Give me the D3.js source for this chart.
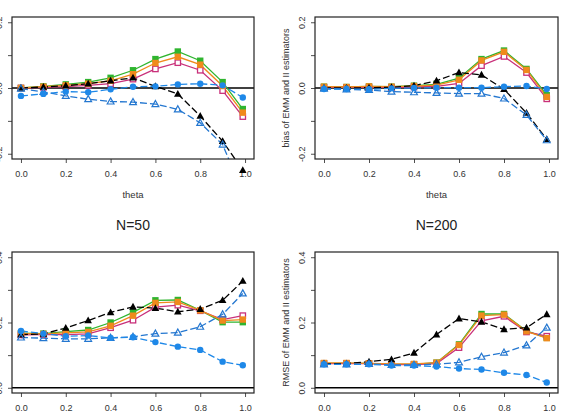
<!DOCTYPE html>
<html><head><meta charset="utf-8">
<script src="https://cdn.jsdelivr.net/npm/d3@7"></script>
<style>body{margin:0;background:#fff}svg{display:block}</style>
</head><body><svg id="c" width="567" height="420"></svg>
<script>
// ---- data ----
const theta = [0, 0.1, 0.2, 0.3, 0.4, 0.5, 0.6, 0.7, 0.8, 0.9, 0.99];
const xTicks = [0, 0.2, 0.4, 0.6, 0.8, 1.0];
const xTickLabels = ["0.0", "0.2", "0.4", "0.6", "0.8", "1.0"];
const biasTicks = [-0.2, -0.1, 0, 0.1, 0.2];
const biasTickLabels = ["-0.2", "", "0.0", "", "0.2"];
const rmseTicks = [0, 0.1, 0.2, 0.3, 0.4];
const rmseTickLabels = ["0.0", "", "0.2", "", "0.4"];
const panelTitles = ["", "", "N=50", "N=200"];
const xTitle = "theta";
const biasTitle = "bias of EMM and II estimators";
const rmseTitle = "RMSE of EMM and II estimators";

// bias, N=50
const bias50Black   = [0, 0.003, 0.007, 0.013, 0.022, 0.031, 0.005, -0.018, -0.085, -0.162, -0.25];
const bias50Green   = [0, 0.005, 0.011, 0.018, 0.031, 0.054, 0.088, 0.111, 0.083, 0.018, -0.064];
const bias50Orange  = [0, 0.004, 0.008, 0.013, 0.022, 0.042, 0.076, 0.095, 0.071, 0.006, -0.075];
const bias50Magenta = [0, 0.002, 0.004, 0.008, 0.013, 0.027, 0.058, 0.077, 0.054, -0.008, -0.087];
const bias50Circle  = [-0.024, -0.018, -0.011, -0.013, -0.004, 0.004, 0.005, 0.011, 0.013, 0.008, -0.029];
const bias50Tri     = [-0.002, -0.012, -0.024, -0.034, -0.041, -0.043, -0.049, -0.065, -0.106, -0.172, -0.32];
// bias, N=200
const bias200Black   = [0, 0, 0.001, 0.002, 0.007, 0.022, 0.047, 0.040, -0.004, -0.076, -0.156];
const bias200Green   = [0.004, 0.003, 0.005, 0.004, 0.007, 0.011, 0.030, 0.088, 0.114, 0.058, -0.022];
const bias200Orange  = [0.004, 0.003, 0.005, 0.004, 0.006, 0.009, 0.025, 0.084, 0.110, 0.055, -0.027];
const bias200Magenta = [0.002, 0.002, 0.002, 0.002, 0.003, 0.005, 0.014, 0.068, 0.096, 0.047, -0.033];
const bias200Circle  = [-0.003, -0.003, -0.004, -0.001, 0.000, 0.001, 0.001, 0.001, 0.004, 0.006, -0.003];
const bias200Tri     = [-0.002, -0.004, -0.006, -0.011, -0.013, -0.015, -0.017, -0.017, -0.032, -0.082, -0.159];
// RMSE, N=50
const rmse50Black   = [0.163, 0.165, 0.183, 0.206, 0.231, 0.248, 0.244, 0.233, 0.241, 0.268, 0.327];
const rmse50Green   = [0.167, 0.166, 0.172, 0.177, 0.200, 0.231, 0.268, 0.269, 0.237, 0.201, 0.201];
const rmse50Orange  = [0.166, 0.165, 0.168, 0.171, 0.190, 0.221, 0.260, 0.263, 0.237, 0.206, 0.209];
const rmse50Magenta = [0.162, 0.163, 0.163, 0.165, 0.184, 0.207, 0.247, 0.253, 0.236, 0.209, 0.221];
const rmse50Circle  = [0.174, 0.166, 0.158, 0.160, 0.153, 0.155, 0.140, 0.126, 0.116, 0.080, 0.069];
const rmse50Tri     = [0.154, 0.152, 0.150, 0.150, 0.153, 0.156, 0.166, 0.169, 0.187, 0.225, 0.289];
// RMSE, N=200
const rmse200Black   = [0.074, 0.074, 0.080, 0.087, 0.107, 0.163, 0.212, 0.202, 0.179, 0.184, 0.225];
const rmse200Green   = [0.075, 0.075, 0.075, 0.072, 0.072, 0.077, 0.133, 0.226, 0.226, 0.174, 0.153];
const rmse200Orange  = [0.076, 0.076, 0.075, 0.073, 0.073, 0.077, 0.131, 0.221, 0.224, 0.173, 0.152];
const rmse200Magenta = [0.074, 0.074, 0.074, 0.071, 0.071, 0.074, 0.123, 0.205, 0.219, 0.171, 0.158];
const rmse200Circle  = [0.072, 0.072, 0.072, 0.068, 0.068, 0.065, 0.059, 0.056, 0.046, 0.039, 0.016];
const rmse200Tri     = [0.072, 0.072, 0.073, 0.070, 0.070, 0.072, 0.078, 0.095, 0.108, 0.130, 0.184];

// ---- styles ----
const styles = {
  green:   {color: "#2fb52f", dash: null,  shape: "fsquare"},
  magenta: {color: "#c9307a", dash: null,  shape: "osquare"},
  orange:  {color: "#f08a1c", dash: null,  shape: "fsquare"},
  black:   {color: "#000000", dash: "7,3", shape: "ftri"},
  tri:     {color: "#2477d0", dash: "7,3", shape: "otri"},
  circle:  {color: "#1e88e8", dash: "7,3", shape: "circle"}
};
const order = ["green", "magenta", "orange", "black", "tri", "circle"];

const panels = [
  {box: [12, 17, 254, 159], dom: [-0.2, 0.2], ticks: biasTicks, labels: biasTickLabels, ytitle: biasTitle, xtitle: true,
   series: {green: bias50Green, magenta: bias50Magenta, orange: bias50Orange, black: bias50Black, tri: bias50Tri, circle: bias50Circle}},
  {box: [315, 17, 558, 159], dom: [-0.2, 0.2], ticks: biasTicks, labels: biasTickLabels, ytitle: biasTitle, xtitle: true,
   series: {green: bias200Green, magenta: bias200Magenta, orange: bias200Orange, black: bias200Black, tri: bias200Tri, circle: bias200Circle}},
  {box: [12, 252, 254, 393], dom: [0, 0.4], ticks: rmseTicks, labels: rmseTickLabels, ytitle: rmseTitle, xtitle: false,
   series: {green: rmse50Green, magenta: rmse50Magenta, orange: rmse50Orange, black: rmse50Black, tri: rmse50Tri, circle: rmse50Circle}},
  {box: [315, 252, 558, 393], dom: [0, 0.4], ticks: rmseTicks, labels: rmseTickLabels, ytitle: rmseTitle, xtitle: false,
   series: {green: rmse200Green, magenta: rmse200Magenta, orange: rmse200Orange, black: rmse200Black, tri: rmse200Tri, circle: rmse200Circle}}
];

const svg = d3.select("#c");
const font = "'Liberation Sans', Arial, Helvetica, sans-serif";
const defs = svg.append("defs");

panels.forEach((p, i) => {
  const [x0, y0, x1, y1] = p.box;
  const xs = d3.scaleLinear().domain([-0.04, 1.04]).range([x0, x1]);
  const pad = (p.dom[1] - p.dom[0]) * 0.04;
  const ys = d3.scaleLinear().domain([p.dom[0] - pad, p.dom[1] + pad]).range([y1, y0]);

  defs.append("clipPath").attr("id", "cl" + i).append("rect")
    .attr("x", x0).attr("y", y0).attr("width", x1 - x0).attr("height", y1 - y0);
  defs.append("clipPath").attr("id", "cp" + i).append("rect")
    .attr("x", x0 - 12).attr("y", y0 - 12).attr("width", x1 - x0 + 24).attr("height", y1 - y0 + 26);

  const g = svg.append("g");

  // x axis
  const xa = g.append("g").attr("transform", `translate(0,${y1})`)
    .call(d3.axisBottom(xs).tickValues(xTicks).tickFormat((d, k) => xTickLabels[k]).tickSizeInner(4).tickSizeOuter(0).tickPadding(8));
  xa.select(".domain").remove();
  xa.selectAll("line").attr("stroke", "#222").attr("stroke-width", 0.8);
  xa.selectAll("text").attr("font-family", font).attr("font-size", 9).attr("fill", "#333");

  // y axis
  const ya = g.append("g").attr("transform", `translate(${x0},0)`)
    .call(d3.axisLeft(ys).tickValues(p.ticks).tickFormat((d, k) => p.labels[k]).tickSizeInner(4).tickSizeOuter(0));
  ya.select(".domain").remove();
  ya.selectAll("line").attr("stroke", "#222").attr("stroke-width", 0.8);
  ya.selectAll("text").attr("font-family", font).attr("font-size", 9).attr("fill", "#333")
    .attr("text-anchor", "middle").attr("dy", null)
    .attr("transform", "rotate(-90)").attr("x", 0).attr("y", -10);

  // titles
  if (p.xtitle) {
    g.append("text").attr("x", (x0 + x1) / 2).attr("y", y1 + 39).attr("text-anchor", "middle")
      .attr("font-family", font).attr("font-size", 9.5).attr("fill", "#333").text(xTitle);
  }
  g.append("text").attr("transform", `translate(${x0 - 26},${(y0 + y1) / 2}) rotate(-90)`)
    .attr("text-anchor", "middle").attr("font-family", font).attr("font-size", 9).attr("fill", "#333").text(p.ytitle);
  if (panelTitles[i]) {
    g.append("text").attr("x", (x0 + x1) / 2).attr("y", y0 - 22).attr("text-anchor", "middle")
      .attr("font-family", font).attr("font-size", 14).attr("fill", "#222").text(panelTitles[i]);
  }

  // zero line
  g.append("line").attr("x1", x0).attr("x2", x1).attr("y1", ys(0)).attr("y2", ys(0))
    .attr("stroke", "#000").attr("stroke-width", 1.5);

  // lines
  const lg = g.append("g").attr("clip-path", `url(#cl${i})`);
  const line = d3.line().x((d, k) => xs(theta[k])).y(d => ys(d));
  order.forEach(key => {
    const s = styles[key];
    lg.append("path").attr("d", line(p.series[key])).attr("fill", "none")
      .attr("stroke", s.color).attr("stroke-width", 1.3)
      .attr("stroke-dasharray", s.dash);
  });

  // points
  const pg = g.append("g").attr("clip-path", `url(#cp${i})`);
  order.forEach(key => {
    const s = styles[key];
    const vals = p.series[key];
    vals.forEach((v, k) => {
      const cx = xs(theta[k]), cy = ys(v);
      if (s.shape === "fsquare") {
        pg.append("rect").attr("x", cx - 3.2).attr("y", cy - 3.2).attr("width", 6.4).attr("height", 6.4)
          .attr("fill", s.color);
      } else if (s.shape === "osquare") {
        pg.append("rect").attr("x", cx - 2.7).attr("y", cy - 2.7).attr("width", 5.4).attr("height", 5.4)
          .attr("fill", "#fff").attr("stroke", s.color).attr("stroke-width", 1.3);
      } else if (s.shape === "ftri") {
        pg.append("path").attr("d", `M${cx},${cy - 4}L${cx + 3.8},${cy + 2.8}L${cx - 3.8},${cy + 2.8}Z`)
          .attr("fill", s.color);
      } else if (s.shape === "otri") {
        pg.append("path").attr("d", `M${cx},${cy - 3.6}L${cx + 3.4},${cy + 2.5}L${cx - 3.4},${cy + 2.5}Z`)
          .attr("fill", "none").attr("stroke", s.color).attr("stroke-width", 1.2);
      } else {
        pg.append("circle").attr("cx", cx).attr("cy", cy).attr("r", 3.2).attr("fill", s.color);
      }
    });
  });

  // box
  g.append("rect").attr("x", x0).attr("y", y0).attr("width", x1 - x0).attr("height", y1 - y0)
    .attr("fill", "none").attr("stroke", "#222").attr("stroke-width", 1.2);
});
</script></body></html>
